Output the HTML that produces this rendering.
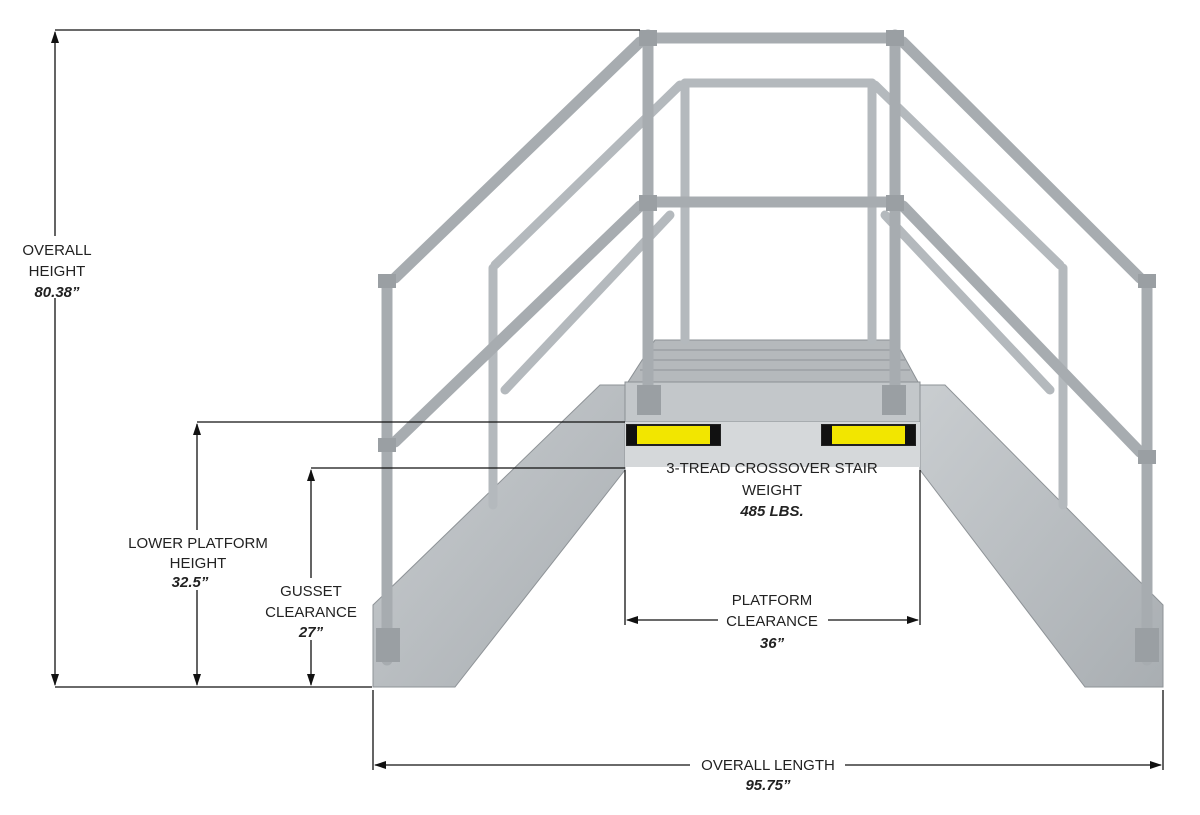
<!DOCTYPE html>
<html><head><meta charset="utf-8"><style>
html,body{margin:0;padding:0;background:#fff;}
svg{display:block;}
text{font-family:"Liberation Sans",sans-serif;font-size:15px;fill:#222;}
.b{font-weight:bold;font-style:italic;}
</style></head><body>
<svg width="1200" height="815" viewBox="0 0 1200 815" xmlns="http://www.w3.org/2000/svg">
<defs>
<marker id="a" markerWidth="12" markerHeight="8" refX="11" refY="4" orient="auto-start-reverse" markerUnits="userSpaceOnUse">
<path d="M0,0 L12,4 L0,8 z" fill="#111"/></marker>
<linearGradient id="st" x1="0" y1="0" x2="1" y2="1"><stop offset="0" stop-color="#c9cdd0"/><stop offset="1" stop-color="#a9aeb2"/></linearGradient>
</defs>
<!-- stringers -->
<polygon points="373,605 373,687 455,687 625,470 625,385 600,385" fill="url(#st)" stroke="#8e9397"/>
<polygon points="1163,605 1163,687 1085,687 920,470 920,385 945,385" fill="url(#st)" stroke="#8e9397"/>
<!-- platform grating -->
<polygon points="655,340 895,340 918,382 628,382" fill="#b5b9bc" stroke="#8b9094"/>
<g stroke="#8e9397" stroke-width="1">
<line x1="650" y1="350" x2="900" y2="350"/><line x1="645" y1="360" x2="905" y2="360"/><line x1="640" y1="370" x2="910" y2="370"/>
</g>
<rect x="625" y="382" width="295" height="40" fill="#c3c7ca" stroke="#8b9094"/>
<rect x="625" y="422" width="295" height="45" fill="#d5d8da"/>
<rect x="627" y="425" width="93" height="20" fill="#f2e600" stroke="#222" stroke-width="2"/>
<rect x="627" y="425" width="10" height="20" fill="#111"/><rect x="710" y="425" width="10" height="20" fill="#111"/>
<rect x="822" y="425" width="93" height="20" fill="#f2e600" stroke="#222" stroke-width="2"/>
<rect x="822" y="425" width="10" height="20" fill="#111"/><rect x="905" y="425" width="10" height="20" fill="#111"/>
<!-- pipes -->
<g stroke="#b4b9bd" stroke-width="9" stroke-linecap="round">
<line x1="685" y1="83" x2="685" y2="340"/><line x1="872" y1="83" x2="872" y2="340"/>
<line x1="493" y1="268" x2="493" y2="505"/><line x1="1063" y1="268" x2="1063" y2="505"/>
<line x1="685" y1="83" x2="872" y2="83"/>
<line x1="495" y1="265" x2="680" y2="85"/><line x1="875" y1="85" x2="1060" y2="265"/>
<line x1="505" y1="390" x2="670" y2="215"/><line x1="885" y1="215" x2="1050" y2="390"/>
</g>
<g stroke="#a7acb0" stroke-width="11" stroke-linecap="round">
<line x1="387" y1="282" x2="387" y2="660"/><line x1="1147" y1="282" x2="1147" y2="660"/>
<line x1="648" y1="35" x2="648" y2="400"/><line x1="895" y1="35" x2="895" y2="400"/>
<line x1="648" y1="38" x2="895" y2="38"/><line x1="648" y1="202" x2="895" y2="202"/>
<line x1="395" y1="278" x2="640" y2="42"/><line x1="903" y1="42" x2="1140" y2="278"/>
<line x1="395" y1="442" x2="640" y2="206"/><line x1="903" y1="206" x2="1140" y2="452"/>
</g>
<g fill="#9a9fa3">
<rect x="378" y="274" width="18" height="14"/><rect x="1138" y="274" width="18" height="14"/>
<rect x="639" y="30" width="18" height="16"/><rect x="886" y="30" width="18" height="16"/>
<rect x="639" y="195" width="18" height="16"/><rect x="886" y="195" width="18" height="16"/>
<rect x="378" y="438" width="18" height="14"/><rect x="1138" y="450" width="18" height="14"/>
<rect x="376" y="628" width="24" height="34"/><rect x="1135" y="628" width="24" height="34"/>
<rect x="637" y="385" width="24" height="30"/><rect x="882" y="385" width="24" height="30"/>
</g>
<!-- dimension lines -->
<g stroke="#111" stroke-width="1.3" fill="none">
<line x1="55" y1="30" x2="640" y2="30"/>
<line x1="55" y1="687" x2="372" y2="687"/>
<line x1="55" y1="32" x2="55" y2="685" marker-start="url(#a)" marker-end="url(#a)"/>
<line x1="197" y1="422" x2="625" y2="422"/>
<line x1="197" y1="424" x2="197" y2="685" marker-start="url(#a)" marker-end="url(#a)"/>
<line x1="311" y1="468" x2="625" y2="468"/>
<line x1="311" y1="470" x2="311" y2="685" marker-start="url(#a)" marker-end="url(#a)"/>
<line x1="625" y1="470" x2="625" y2="625"/><line x1="920" y1="470" x2="920" y2="625"/>
<line x1="627" y1="620" x2="918" y2="620" marker-start="url(#a)" marker-end="url(#a)"/>
<line x1="373" y1="690" x2="373" y2="770"/><line x1="1163" y1="690" x2="1163" y2="770"/>
<line x1="375" y1="765" x2="1161" y2="765" marker-start="url(#a)" marker-end="url(#a)"/>
</g>
<!-- labels -->
<g fill="#fff">
<rect x="15" y="236" width="85" height="62"/>
<rect x="120" y="530" width="158" height="60"/>
<rect x="258" y="578" width="105" height="62"/>
<rect x="718" y="587" width="110" height="60"/>
<rect x="690" y="752" width="155" height="40"/>
</g>
<g text-anchor="middle">
<text x="57" y="255">OVERALL</text><text x="57" y="276">HEIGHT</text><text x="57" y="297" class="b">80.38”</text>
<text x="198" y="548">LOWER PLATFORM</text><text x="198" y="568">HEIGHT</text><text x="190" y="587" class="b">32.5”</text>
<text x="311" y="596">GUSSET</text><text x="311" y="617">CLEARANCE</text><text x="311" y="637" class="b">27”</text>
<text x="772" y="473">3-TREAD CROSSOVER STAIR</text><text x="772" y="495">WEIGHT</text><text x="772" y="516" class="b">485 LBS.</text>
<text x="772" y="605">PLATFORM</text><text x="772" y="626">CLEARANCE</text><text x="772" y="648" class="b">36”</text>
<text x="768" y="770">OVERALL LENGTH</text><text x="768" y="790" class="b">95.75”</text>
</g>
</svg>
</body></html>
